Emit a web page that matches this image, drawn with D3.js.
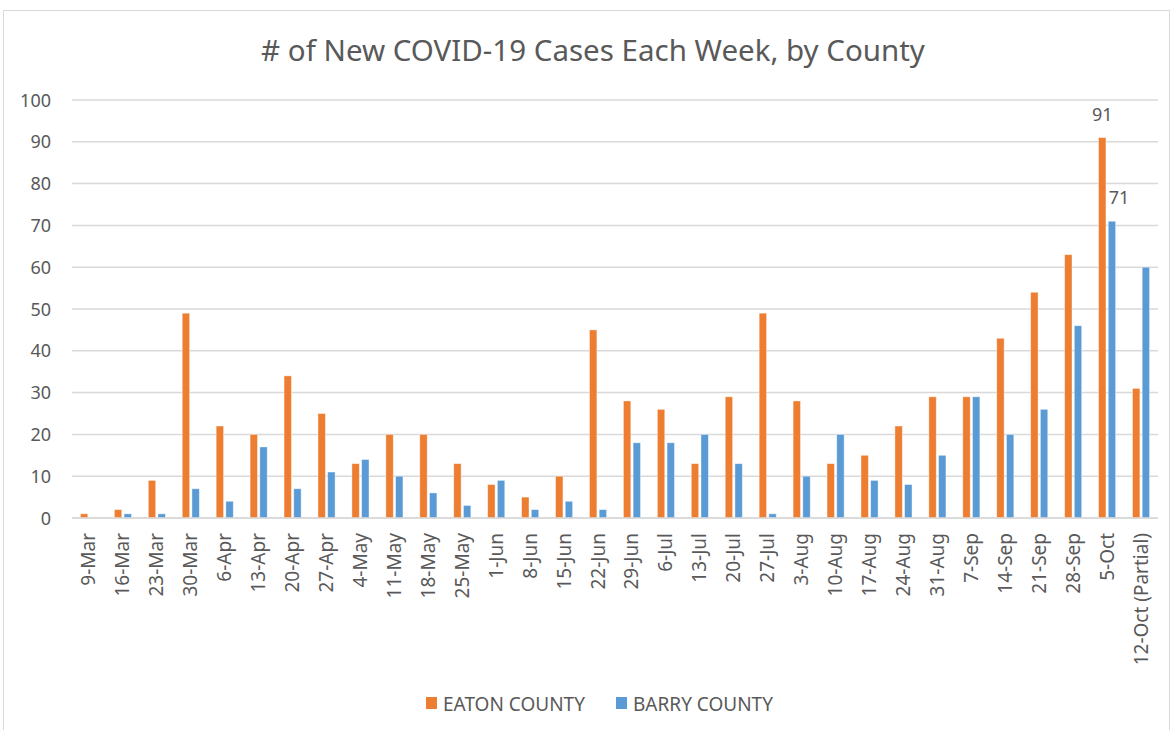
<!DOCTYPE html>
<html>
<head>
<meta charset="utf-8">
<script src="https://cdn.jsdelivr.net/npm/d3@7"></script>
<style>
  body { margin: 0; background: #fff; }
  text { font-family: "Noto Sans", "Open Sans", sans-serif; fill: #595959; }
</style>
</head>
<body>
<svg id="chart"></svg>
<script>
var weeks = ["9-Mar", "16-Mar", "23-Mar", "30-Mar", "6-Apr", "13-Apr", "20-Apr", "27-Apr",
             "4-May", "11-May", "18-May", "25-May", "1-Jun", "8-Jun", "15-Jun", "22-Jun",
             "29-Jun", "6-Jul", "13-Jul", "20-Jul", "27-Jul", "3-Aug", "10-Aug", "17-Aug",
             "24-Aug", "31-Aug", "7-Sep", "14-Sep", "21-Sep", "28-Sep", "5-Oct", "12-Oct (Partial)"]
var eaton = [1, 2, 9, 49, 22, 20, 34, 25, 13, 20, 20, 13, 8, 5, 10, 45,
             28, 26, 13, 29, 49, 28, 13, 15, 22, 29, 29, 43, 54, 63, 91, 31]
var barry = [0, 1, 1, 7, 4, 17, 7, 11, 14, 10, 6, 3, 9, 2, 4, 2,
             18, 18, 20, 13, 1, 10, 20, 9, 8, 15, 29, 20, 26, 46, 71, 60]
var seriesNames = ["EATON COUNTY", "BARRY COUNTY"]
var seriesColors = ["#ED7D31", "#5B9BD5"]
var yTicks = [0, 10, 20, 30, 40, 50, 60, 70, 80, 90, 100]
var title = "# of New COVID-19 Cases Each Week, by County"

var W = 1171, H = 730
var svg = d3.select("#chart").attr("width", W).attr("height", H)

// chart frame
svg.append("rect")
    .attr("x", 3.5).attr("y", 10.5)
    .attr("width", 1166).attr("height", 730)
    .attr("fill", "#fff")
    .attr("stroke", "#d9d9d9")

var x = d3.scaleBand()
    .domain(weeks)
    .range([72, 1158])

var xs = d3.scaleBand()
    .domain(seriesNames)
    .range([-8.55, 8.55])
    .paddingInner(0.237)

var y = d3.scaleLinear()
    .domain([0, 100])
    .range([518, 100])

// title
svg.append("text")
    .attr("x", 593)
    .attr("y", 61)
    .attr("text-anchor", "middle")
    .attr("font-size", "29.5px")
    .text(title)

// gridlines
svg.append("g")
    .selectAll("line")
    .data(yTicks)
    .enter()
    .append("line")
    .attr("x1", 72)
    .attr("x2", 1158)
    .attr("y1", function(d){ return y(d) })
    .attr("y2", function(d){ return y(d) })
    .attr("stroke", "#d9d9d9")
    .attr("stroke-width", 1.5)

// y labels
svg.append("g")
    .selectAll("text")
    .data(yTicks)
    .enter()
    .append("text")
    .attr("x", 51)
    .attr("y", function(d){ return y(d) + 6.5 })
    .attr("text-anchor", "end")
    .attr("font-size", "18px")
    .text(function(d){ return d })

// bars
var rows = weeks.map(function(w, i){ return {week: w, values: [eaton[i], barry[i]]} })

var groups = svg.append("g")
    .selectAll("g")
    .data(rows)
    .enter()
    .append("g")
    .attr("transform", function(d){ return "translate(" + (x(d.week) + x.bandwidth() / 2) + ",0)" })

groups.selectAll("rect")
    .data(function(d){ return d.values.map(function(v, j){ return {name: seriesNames[j], value: v, k: j} }) })
    .enter()
    .append("rect")
    .attr("x", function(d){ return xs(d.name) })
    .attr("width", xs.bandwidth())
    .attr("y", function(d){ return y(d.value) })
    .attr("height", function(d){ return y(0) - y(d.value) })
    .attr("fill", function(d){ return seriesColors[d.k] })
    .attr("stroke", "#fff")
    .attr("stroke-opacity", 0.5)
    .attr("stroke-width", 0.8)

// axis line
svg.append("line")
    .attr("x1", 72).attr("x2", 1158)
    .attr("y1", y(0)).attr("y2", y(0))
    .attr("stroke", "#d9d9d9")
    .attr("stroke-width", 1.5)

// x labels
svg.append("g")
    .selectAll("text")
    .data(weeks)
    .enter()
    .append("text")
    .attr("text-anchor", "end")
    .attr("font-size", "19px")
    .attr("transform", function(d){
        return "translate(" + (x(d) + x.bandwidth() / 2 + 6.5) + ",533) rotate(-90)"
    })
    .text(function(d){ return d })

// data labels on 5-Oct
var lastFull = weeks.indexOf("5-Oct")
var cx = x("5-Oct") + x.bandwidth() / 2
svg.append("text")
    .attr("x", cx + xs(seriesNames[0]) + xs.bandwidth() / 2)
    .attr("y", y(eaton[lastFull]) - 17)
    .attr("text-anchor", "middle")
    .attr("font-size", "18px")
    .text(eaton[lastFull])
svg.append("text")
    .attr("x", cx + xs(seriesNames[1]) + xs.bandwidth() / 2 + 7)
    .attr("y", y(barry[lastFull]) - 17)
    .attr("text-anchor", "middle")
    .attr("font-size", "18px")
    .text(barry[lastFull])

// legend
var legendX = [426, 616]
var legend = svg.append("g")
    .selectAll("g")
    .data(seriesNames)
    .enter()
    .append("g")
    .attr("transform", function(d, i){ return "translate(" + legendX[i] + ",697)" })
legend.append("rect")
    .attr("width", 11).attr("height", 12)
    .attr("fill", function(d, i){ return seriesColors[i] })
legend.append("text")
    .attr("x", 17)
    .attr("y", 13.5)
    .attr("font-size", "19px")
    .text(function(d){ return d })
</script>
</body>
</html>
